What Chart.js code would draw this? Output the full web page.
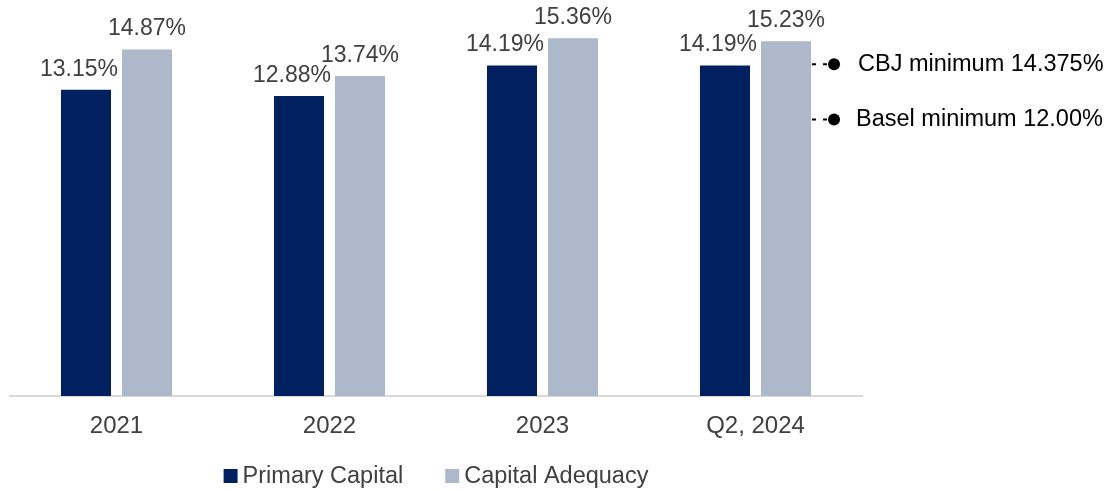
<!DOCTYPE html>
<html>
<head>
<meta charset="utf-8">
<script src="https://cdn.jsdelivr.net/npm/chart.js@4"></script>
<style>
    html, body { margin: 0; padding: 0; background: #ffffff; overflow: hidden; }
    #wrap { width: 1112px; height: 491px; }
</style>
</head>
<body>
<div id="wrap"><canvas id="myChart"></canvas></div>
<script>
const categories = ['2021', '2022', '2023', 'Q2, 2024'];
const primaryCapital = [13.15, 12.88, 14.19, 14.19];
const capitalAdequacy = [14.87, 13.74, 15.36, 15.23];
const minimumLabels = ['CBJ minimum 14.375%', 'Basel minimum 12.00%'];
const minimumValues = [14.375, 12.00];

const colors = ['#002060', '#ADB9CA'];
const fontFamily = '"Liberation Sans", Arial, sans-serif';

// values above each bar
const barLabels = {
    id: 'barLabels',
    afterDatasetsDraw(chart) {
        const ctx = chart.ctx;
        ctx.save();
        ctx.font = '23px ' + fontFamily;
        ctx.fillStyle = '#404040';
        ctx.textAlign = 'center';
        ctx.textBaseline = 'bottom';
        chart.data.datasets.forEach((ds, i) => {
            const meta = chart.getDatasetMeta(i);
            meta.data.forEach((bar, j) => {
                const shift = i === 0 ? -7 : 0;
                ctx.fillText(ds.data[j].toFixed(2) + '%', bar.x + shift, bar.y - 9);
            });
        });
        ctx.restore();
    }
};

// minimum requirement markers at the right of the last bar
const minimumMarkers = {
    id: 'minimumMarkers',
    afterDatasetsDraw(chart) {
        const ctx = chart.ctx;
        const yScale = chart.scales.y;
        const meta = chart.getDatasetMeta(1);
        const lastBar = meta.data[meta.data.length - 1];
        const x0 = lastBar.x + lastBar.width / 2 + 1;
        ctx.save();
        minimumValues.forEach((value, i) => {
            const y = yScale.getPixelForValue(value) + 3;
            ctx.strokeStyle = '#000000';
            ctx.lineWidth = 2;
            ctx.setLineDash([4, 7]);
            ctx.beginPath();
            ctx.moveTo(x0, y);
            ctx.lineTo(x0 + 22, y);
            ctx.stroke();
            ctx.setLineDash([]);
            ctx.fillStyle = '#000000';
            ctx.beginPath();
            ctx.arc(x0 + 22, y, 6, 0, Math.PI * 2);
            ctx.fill();
            ctx.font = '23.5px ' + fontFamily;
            ctx.textAlign = 'left';
            ctx.textBaseline = 'middle';
            ctx.fillText(minimumLabels[i], x0 + 46 - (i === 1 ? 2 : 0), y);
        });
        ctx.restore();
    }
};

// legend drawn below the axis, centred on the plot
const bottomLegend = {
    id: 'bottomLegend',
    afterDraw(chart) {
        const ctx = chart.ctx;
        const area = chart.chartArea;
        const box = 14, textGap = 5, itemGap = 42;
        ctx.save();
        ctx.font = '23.5px ' + fontFamily;
        const items = chart.data.datasets.map(ds => ({
            text: ds.label,
            color: ds.backgroundColor,
            w: ctx.measureText(ds.label).width
        }));
        const total = items.reduce((s, it) => s + box + textGap + it.w, 0) + itemGap * (items.length - 1);
        let x = (area.left + area.right) / 2 - total / 2;
        const y = area.bottom + 80;
        ctx.textBaseline = 'middle';
        ctx.textAlign = 'left';
        items.forEach(it => {
            ctx.fillStyle = it.color;
            ctx.fillRect(x, y - box / 2, box, box);
            ctx.fillStyle = '#404040';
            ctx.fillText(it.text, x + box + textGap, y + 1);
            x += box + textGap + it.w + itemGap;
        });
        ctx.restore();
    }
};

const ctx = document.getElementById('myChart').getContext('2d');
const myChart = new Chart(ctx, {
    type: 'bar',
    data: {
        labels: categories,
        datasets: [
            {
                label: 'Primary Capital',
                data: primaryCapital,
                backgroundColor: colors[0],
                barPercentage: 0.82,
                categoryPercentage: 0.573
            },
            {
                label: 'Capital Adequacy',
                data: capitalAdequacy,
                backgroundColor: colors[1],
                barPercentage: 0.82,
                categoryPercentage: 0.573
            }
        ]
    },
    options: {
        responsive: true,
        maintainAspectRatio: false,
        animation: false,
        layout: {
            padding: { left: 10, right: 250, top: 0, bottom: 35 }
        },
        plugins: {
            legend: { display: false },
            tooltip: { enabled: false }
        },
        scales: {
            x: {
                grid: { display: false },
                border: { color: '#D9D9D9', width: 2 },
                ticks: {
                    color: '#404040',
                    padding: 8,
                    font: { size: 24, family: fontFamily }
                },
                afterFit(scale) {
                    scale.height = 60;
                }
            },
            y: {
                display: false,
                min: 0,
                max: 17
            }
        }
    },
    plugins: [barLabels, minimumMarkers, bottomLegend]
});
</script>
</body>
</html>
